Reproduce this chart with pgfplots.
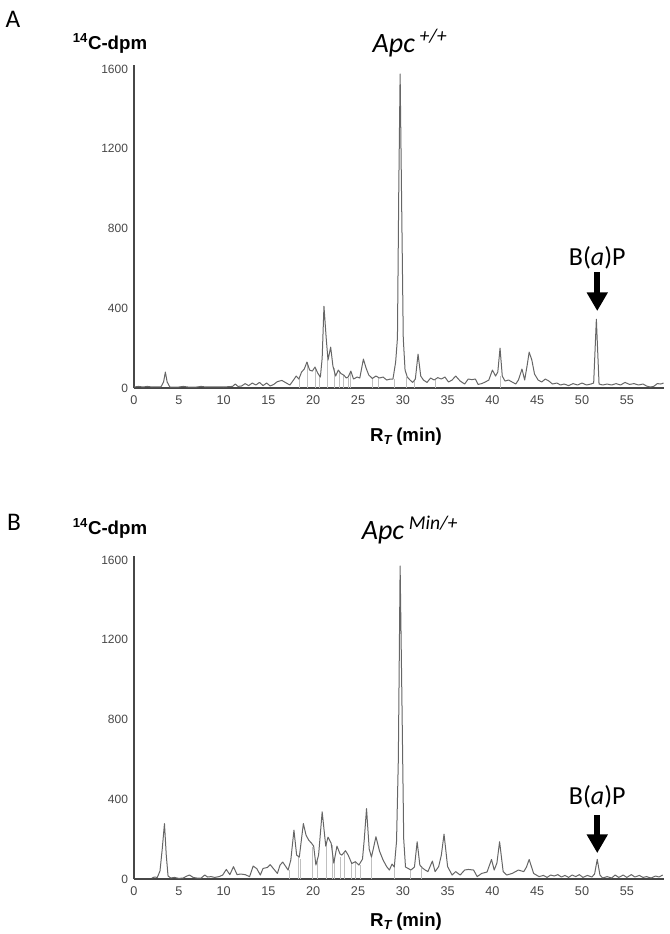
\documentclass[border=0pt]{standalone}
\usepackage{pgfplots}
\pgfplotsset{compat=1.18}
\usepackage{fontspec}
\setmainfont{Liberation Sans}
\newfontfamily\calibri{Carlito}
\usetikzlibrary{arrows.meta}

% 1 px of the reference = 0.75pt, y counted downwards
\newcommand{\px}[2]{({(#1)*0.75pt},{-(#2)*0.75pt})}

\pgfplotsset{chrom/.style={
    scale only axis,
    width=397.5pt, height=242.25pt,
    xmin=0, xmax=59.15, ymin=0, ymax=1620,
    axis x line=bottom, axis y line=left,
    axis line style={-, line width=1.4pt, black!72},
    xtick={0,5,...,55}, ytick={0,400,...,1600},
    major tick length=0pt,
    tick label style={black!72},
    xticklabel style={font=\fontsize{9.5}{10}\selectfont, yshift=-2pt},
    yticklabel style={font=\fontsize{9}{10}\selectfont, xshift=-1pt},
    /pgf/number format/assume math mode=true,
    /pgf/number format/1000 sep={},
    clip=false,
  },
  trace/.style={black!60, line width=0.75pt, line join=round},
  drop/.style={ycomb, black!25, line width=0.4pt, mark=none},
}

\begin{document}
\begin{tikzpicture}
\path[use as bounding box] (0,0) rectangle \px{669}{934};

% ---------------- panel A ----------------
\node[font=\calibri\fontsize{19}{20}\selectfont] at \px{13}{19} {A};
\node[font=\bfseries\fontsize{14}{15}\selectfont] at \px{110}{43} {\textsuperscript{14}C-dpm};
\node[font=\calibri\itshape\fontsize{21}{22}\selectfont] at \px{410}{43} {Apc\,\textsuperscript{+/+}};

\begin{axis}[chrom, at={(100.5pt,-291pt)}, anchor=south west]
\addplot[drop] coordinates {
(18.4,45) (19.3,130) (20.2,100) (20.7,60) (21.6,140) (22.3,100) (22.9,85)
(23.4,65) (23.9,52) (24.1,80) (26.6,48) (27.3,52) (29.1,45) (30.4,55)
(31.3,40) (33.6,42) (40.9,60)};
\addplot[trace] coordinates {
(0,5) (0.5,8) (1,5) (1.5,8) (2,5) (2.5,6) (3,5) (3.3,30) (3.5,80) (3.7,30)
(4,5) (5,5) (5.5,8) (6,5) (7,5) (7.5,8) (8,5) (9,6) (10,5) (11,8) (11.3,20)
(11.6,8) (12,10) (12.4,22) (12.8,12) (13.2,25) (13.6,15) (14,28) (14.4,12)
(14.8,25) (15.2,10) (15.6,18) (16,32) (16.5,38) (17,25) (17.4,15) (17.8,40)
(18.1,60) (18.4,45) (18.7,80) (19,95) (19.3,130) (19.6,90) (19.9,85)
(20.2,105) (20.5,75) (20.8,55) (21.0,150) (21.2,410) (21.45,250) (21.65,140)
(21.95,205) (22.2,110) (22.5,60) (22.8,90) (23.1,72) (23.4,65) (23.7,50)
(23.9,55) (24.2,85) (24.5,45) (24.9,55) (25.2,50) (25.6,145) (25.9,100)
(26.2,65) (26.6,48) (27.0,60) (27.4,50) (27.8,55) (28.2,40) (28.6,45)
(28.9,45) (29.2,130) (29.4,250) (29.55,1000) (29.7,1575) (29.85,1000)
(30.05,250) (30.25,90) (30.5,55) (30.8,40) (31.1,28) (31.4,45) (31.7,170)
(32.0,60) (32.3,40) (32.7,28) (33.1,50) (33.5,40) (33.9,52) (34.3,45)
(34.7,55) (35.1,30) (35.5,40) (35.9,60) (36.4,35) (36.9,20) (37.3,45)
(37.7,42) (38.1,45) (38.4,18) (38.8,22) (39.2,30) (39.6,40) (40.0,90)
(40.35,60) (40.6,80) (40.85,200) (41.1,60) (41.4,35) (41.8,40) (42.2,30)
(42.6,20) (42.9,40) (43.3,95) (43.6,40) (43.9,120) (44.1,180) (44.4,140)
(44.7,70) (45.1,40) (45.5,30) (45.9,45) (46.3,35) (46.7,20) (47.2,25)
(47.6,15) (48.0,20) (48.5,12) (49.0,22) (49.5,15) (50,25) (50.5,15)
(51.0,20) (51.3,25) (51.6,345) (51.9,20) (52.3,15) (52.8,20) (53.3,15)
(53.8,22) (54.3,15) (54.8,28) (55.3,18) (55.8,22) (56.3,15) (56.8,20)
(57.2,10) (57.6,5) (58,8) (58.4,22) (58.8,20) (59.1,25)};
\draw[line width=4.5pt, -{Triangle[width=15pt,length=14pt]}]
  (axis cs:51.7,580) -- (axis cs:51.7,386);
\node[font=\calibri\fontsize{19.5}{20}\selectfont] at (axis cs:51.7,652) {B(\textit{a})P};
\end{axis}
\node[font=\bfseries\fontsize{14}{15}\selectfont] at \px{406}{437} {R\textsubscript{\textit{T}}\,(min)};

% ---------------- panel B ----------------
\node[font=\calibri\fontsize{19}{20}\selectfont] at \px{14}{522} {B};
\node[font=\bfseries\fontsize{14}{15}\selectfont] at \px{110}{528} {\textsuperscript{14}C-dpm};
\node[font=\calibri\itshape\fontsize{21}{22}\selectfont] at \px{410}{530} {Apc\,\textsuperscript{Min/+}};

\begin{axis}[chrom, at={(100.5pt,-659.25pt)}, anchor=south west]
\addplot[drop] coordinates {
(17.3,45) (18.3,115) (18.6,100) (19.95,160) (20.45,90) (21.5,185) (22.1,170)
(22.4,90) (23.0,110) (23.5,130) (24.2,80) (24.7,85) (25.2,70) (26.45,108)
(29.0,62) (30.8,45) (32.1,55)};
\addplot[trace] coordinates {
(2.0,5) (2.3,10) (2.6,8) (2.9,40) (3.15,150) (3.4,278) (3.6,120) (3.8,15)
(4.1,5) (4.5,8) (5,3) (5.5,5) (5.9,15) (6.2,20) (6.6,8) (7,5) (7.5,5)
(7.9,20) (8.2,10) (8.6,12) (9,8) (9.5,12) (9.9,20) (10.3,48) (10.7,22)
(11.1,62) (11.5,22) (11.9,25) (12.4,22) (12.9,12) (13.3,65) (13.7,52)
(14.1,20) (14.4,53) (14.9,58) (15.2,72) (15.6,50) (16.0,28) (16.3,70)
(16.6,85) (16.9,65) (17.2,45) (17.5,95) (17.85,245) (18.15,120) (18.45,110)
(18.9,278) (19.2,220) (19.5,195) (19.8,180) (20.05,165) (20.3,70) (20.6,120)
(21.0,337) (21.4,165) (21.65,210) (22.0,180) (22.3,80) (22.65,165) (23.0,125)
(23.2,120) (23.6,142) (23.9,120) (24.3,78) (24.7,87) (25.1,70) (25.5,100)
(25.7,200) (25.95,353) (26.25,150) (26.5,110) (26.7,150) (27.0,212)
(27.4,140) (27.8,95) (28.2,62) (28.5,45) (28.8,75) (29.05,60) (29.3,190)
(29.5,600) (29.7,1570) (29.9,900) (30.1,200) (30.3,60) (30.6,53) (30.9,45)
(31.3,60) (31.6,187) (31.9,70) (32.2,55) (32.5,45) (32.8,37) (33.3,90)
(33.6,37) (34.0,62) (34.3,120) (34.6,225) (35.0,62) (35.5,20) (35.9,37)
(36.4,20) (36.9,45) (37.3,48) (37.9,45) (38.3,12) (38.8,28) (39.4,35)
(39.9,98) (40.2,45) (40.5,80) (40.8,187) (41.2,37) (41.6,20) (42.2,28)
(42.9,45) (43.5,37) (43.8,60) (44.1,98) (44.6,28) (45.2,12) (45.7,18)
(46.1,8) (46.5,20) (46.9,15) (47.3,22) (47.7,10) (48.1,18) (48.5,8)
(48.9,20) (49.3,12) (49.7,22) (50.1,8) (50.6,18) (51.1,10) (51.4,25)
(51.7,98) (52.0,20) (52.3,5) (52.8,12) (53.3,5) (53.7,20) (54.1,8)
(54.6,20) (55.0,8) (55.5,22) (55.9,10) (56.4,18) (56.8,8) (57.2,12)
(57.7,5) (58.2,15) (58.6,10) (59.0,20)};
\draw[line width=4.5pt, -{Triangle[width=15pt,length=14pt]}]
  (axis cs:51.7,320) -- (axis cs:51.7,130);
\node[font=\calibri\fontsize{19.5}{20}\selectfont] at (axis cs:51.7,410) {B(\textit{a})P};
\end{axis}
\node[font=\bfseries\fontsize{14}{15}\selectfont] at \px{406}{922} {R\textsubscript{\textit{T}}\,(min)};
\end{tikzpicture}
\end{document}
